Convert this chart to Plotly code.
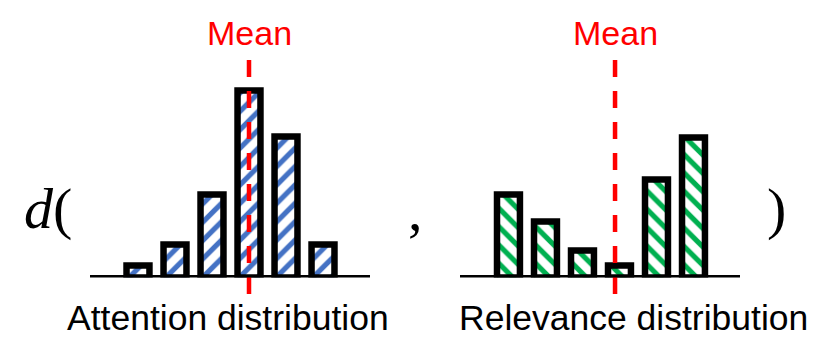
import plotly.graph_objects as go

# bar heights (arbitrary units, same scale for both panels)
bins = [0, 1, 2, 3, 4, 5]
attention = [12, 33, 83, 187, 141, 33]
relevance = [83, 56, 27, 12, 98, 140]
attention_mean = 3.0
relevance_mean = 2.88

labels = ["Attention distribution", "Relevance distribution"]
mean_label = "Mean"

BLUE = "#4472C4"
GREEN = "#00B050"
RED = "#FF0000"
W, H = 830, 362

fig = go.Figure()
fig.add_trace(go.Bar(
    x=bins, y=attention, width=0.62, xaxis="x", yaxis="y",
    marker=dict(color=BLUE, line=dict(color="black", width=6.5),
                pattern=dict(shape="/", fgcolor=BLUE, bgcolor="white", fgopacity=1,
                             size=13, solidity=0.4)),
))
fig.add_trace(go.Bar(
    x=bins, y=relevance, width=0.62, xaxis="x2", yaxis="y2",
    marker=dict(color=GREEN, line=dict(color="black", width=6.5),
                pattern=dict(shape="\\", fgcolor=GREEN, bgcolor="white", fgopacity=1,
                             size=13, solidity=0.4)),
))

ydom = [(H - 277.5) / H, (H - 77.5) / H]
axis_off = dict(visible=False, showgrid=False, zeroline=False, fixedrange=True)
fig.update_layout(
    width=W, height=H,
    margin=dict(l=0, r=0, t=0, b=0),
    paper_bgcolor="white", plot_bgcolor="white",
    showlegend=False,
    xaxis=dict(domain=[90 / W, 370 / W], range=[-1.297, 6.27], **axis_off),
    xaxis2=dict(domain=[460 / W, 740 / W], range=[-1.31, 6.257], **axis_off),
    yaxis=dict(domain=ydom, range=[0, 200], **axis_off),
    yaxis2=dict(domain=ydom, range=[0, 200], anchor="x2", **axis_off),
)

shapes = []
annotations = []
for xa, m, lab in [("x", attention_mean, labels[0]), ("x2", relevance_mean, labels[1])]:
    shapes.append(dict(type="line", xref=xa, yref="paper", x0=m, x1=m,
                       y0=(H - 60) / H, y1=(H - 295) / H,
                       line=dict(color=RED, width=4.5, dash="17px,14px")))
    shapes.append(dict(type="line", xref=xa + " domain", yref="y" if xa == "x" else "y2",
                       x0=0, x1=1, y0=0, y1=0,
                       line=dict(color="black", width=5)))
    annotations.append(dict(text=mean_label, xref=xa, yref="paper", x=m, y=(H - 33) / H,
                            showarrow=False, xanchor="center", yanchor="middle",
                            font=dict(family="Liberation Sans", size=34, color=RED)))

annotations.append(dict(text=labels[0], xref="paper", yref="paper", x=228 / W, y=(H - 318) / H,
                        showarrow=False, xanchor="center", yanchor="middle",
                        font=dict(family="Liberation Sans", size=35.5, color="black")))
annotations.append(dict(text=labels[1], xref="paper", yref="paper", x=633 / W, y=(H - 318) / H,
                        showarrow=False, xanchor="center", yanchor="middle",
                        font=dict(family="Liberation Sans", size=35.5, color="black")))

serif = dict(family="Liberation Serif", size=58, color="black")
annotations.append(dict(text="<i>d</i>(", xref="paper", yref="paper", x=22 / W, y=(H - 208) / H,
                        showarrow=False, xanchor="left", yanchor="middle", font=serif))
annotations.append(dict(text=",", xref="paper", yref="paper", x=415 / W, y=(H - 210) / H,
                        showarrow=False, xanchor="center", yanchor="middle", font=serif))
annotations.append(dict(text=")", xref="paper", yref="paper", x=776 / W, y=(H - 208) / H,
                        showarrow=False, xanchor="center", yanchor="middle", font=serif))

fig.update_layout(shapes=shapes, annotations=annotations)
# drop the browser's default 8px body margin so the figure sits at the page origin
fig.write_html("out.html", config={"displayModeBar": False},
               post_script="document.body.style.margin='0';")
